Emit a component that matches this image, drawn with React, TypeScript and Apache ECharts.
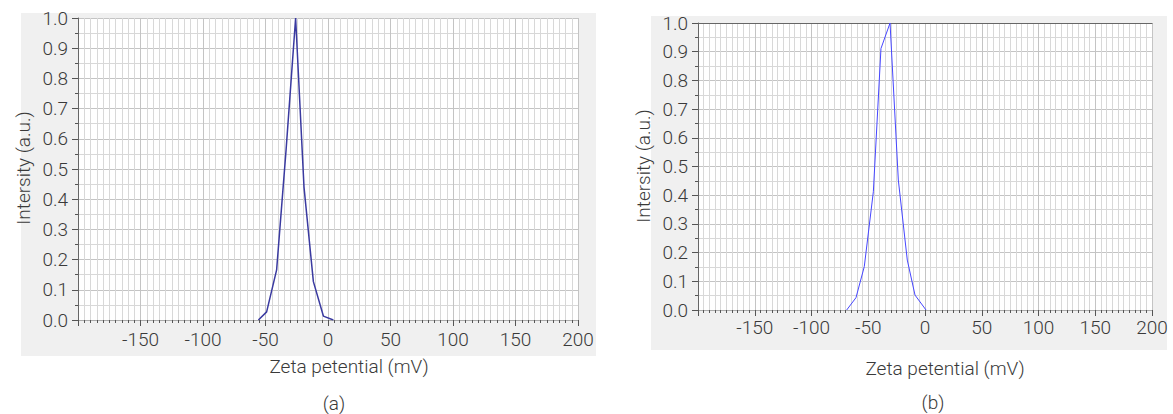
import React, { useEffect, useRef } from "react";
import * as echarts from "echarts";

const zetaA = [-55.7, -49.1, -41.1, -33.6, -25.9, -19.2, -11.7, -3.7, 4.3];
const intensityA = [0, 0.027, 0.166, 0.56, 1.0, 0.44, 0.127, 0.013, 0];

const zetaB = [-69.0, -60.8, -53.5, -45.5, -38.8, -30.8, -23.5, -15.6, -8.8, 0.9];
const intensityB = [0, 0.043, 0.151, 0.412, 0.911, 1.0, 0.453, 0.174, 0.052, 0];

const xTitle = "Zeta petential (mV)";
const yTitle = "Intersity (a.u.)";
const panelLabels = ["(a)", "(b)"];

const FONT = "Roboto";
const TXT = "#3a3a3a";
const FS = 19;

function xAxisCfg(gridIndex: number, margin: number) {
  return {
    type: "value",
    gridIndex,
    min: -200,
    max: 200,
    interval: 50,
    axisLine: { show: true, onZero: false, lineStyle: { color: "#aaa", width: 1 } },
    axisTick: { show: true, length: 6, lineStyle: { color: "#555" } },
    minorTick: { show: true, splitNumber: 10, length: 3, lineStyle: { color: "#555" } },
    splitLine: { show: true, lineStyle: { color: "#c4c4c4", width: 1 } },
    minorSplitLine: { show: true, lineStyle: { color: "#d8d8d8", width: 1 } },
    axisLabel: {
      margin,
      color: TXT,
      fontFamily: FONT,
      fontWeight: 300,
      fontSize: FS,
      formatter: (v: number) => (v === -200 ? "" : String(v)),
    },
  };
}

function yAxisCfg(gridIndex: number) {
  return {
    type: "value",
    gridIndex,
    min: 0,
    max: 1,
    interval: 0.1,
    axisLine: { show: true, onZero: false, lineStyle: { color: "#666", width: 1 } },
    axisTick: { show: true, length: 6, lineStyle: { color: "#555" } },
    minorTick: { show: true, splitNumber: 2, length: 3, lineStyle: { color: "#555" } },
    splitLine: { show: true, lineStyle: { color: "#c4c4c4", width: 1 } },
    minorSplitLine: { show: true, lineStyle: { color: "#d8d8d8", width: 1 } },
    axisLabel: {
      margin: 10,
      color: TXT,
      fontFamily: FONT,
      fontWeight: 300,
      fontSize: FS,
      formatter: (v: number) => v.toFixed(1),
    },
  };
}

function textEl(x: number, y: number, text: string, rotation = 0) {
  return {
    type: "text",
    x,
    y,
    rotation,
    z: 10,
    style: {
      text,
      fill: TXT,
      font: `300 ${FS}px ${FONT}`,
      textAlign: "center",
      textVerticalAlign: "middle",
    },
  };
}

export default function App() {
  const ref = useRef<HTMLDivElement>(null);
  useEffect(() => {
    if (!ref.current) return;
    const chart = echarts.init(ref.current, null, { renderer: "svg" });
    chart.setOption({
      animation: false,
      backgroundColor: "#fff",
      graphic: [
        { type: "rect", shape: { x: 21, y: 13, width: 575, height: 343 }, style: { fill: "#f0f0f0" }, z: -10 },
        { type: "rect", shape: { x: 651, y: 16, width: 516, height: 334 }, style: { fill: "#f0f0f0" }, z: -10 },
        textEl(349, 366, xTitle),
        textEl(945, 368, xTitle),
        textEl(23, 168, yTitle, Math.PI / 2),
        textEl(643, 166, yTitle, Math.PI / 2),
        textEl(334, 403, panelLabels[0]),
        textEl(933, 402, panelLabels[1]),
      ],
      grid: [
        { left: 78, right: 595, top: 18, bottom: 94, show: true, backgroundColor: "#fff", borderWidth: 0 },
        { left: 698, right: 21, top: 23, bottom: 104, show: true, backgroundColor: "#fff", borderWidth: 0 },
      ],
      xAxis: [
        xAxisCfg(0, 10),
        xAxisCfg(1, 8),
        {
          type: "value",
          gridIndex: 1,
          position: "top",
          min: -200,
          max: 200,
          axisLine: { show: true, onZero: false, lineStyle: { color: "#666", width: 1 } },
          axisTick: { show: false },
          axisLabel: { show: false },
          splitLine: { show: false },
        },
      ],
      yAxis: [yAxisCfg(0), yAxisCfg(1)],
      series: [
        {
          type: "line",
          xAxisIndex: 0,
          yAxisIndex: 0,
          data: zetaA.map((x, i) => [x, intensityA[i]]),
          showSymbol: false,
          lineStyle: { color: "#3a3aa0", width: 1.5 },
          z: 5,
        },
        {
          type: "line",
          xAxisIndex: 1,
          yAxisIndex: 1,
          data: zetaB.map((x, i) => [x, intensityB[i]]),
          showSymbol: false,
          lineStyle: { color: "#4646ff", width: 1 },
          z: 5,
        },
      ],
    });
    return () => chart.dispose();
  }, []);
  return (
    <div
      ref={ref}
      style={{ position: "fixed", left: 0, top: 0, width: 1173, height: 414 }}
    />
  );
}
